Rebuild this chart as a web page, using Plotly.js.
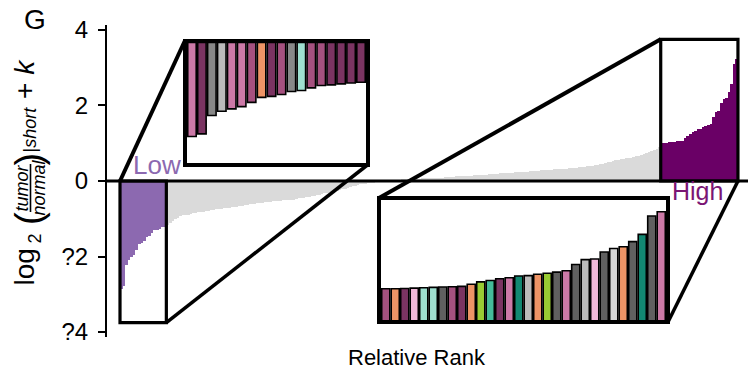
<!DOCTYPE html>
<html>
<head>
<meta charset="utf-8">
<script src="https://cdn.plot.ly/plotly-3.0.1.min.js"></script>
<style>
  html, body { margin: 0; padding: 0; background: #fff; }
  #chart { width: 748px; height: 371px; }
</style>
</head>
<body>
<div id="chart"></div>
<script>
// Ranked scores: the low tail, the unremarkable middle, and the high tail
const lowScores = [-2.86, -2.78, -2.22, -2.09, -2.02, -1.95, -1.82, -1.67, -1.64,
                   -1.58, -1.49, -1.46, -1.38, -1.31, -1.29, -1.26, -1.23, -1.21];

const midScores = [
  -1.16, -1.12, -1.05, -1.00, -0.97,
  -0.92, -0.91, -0.90, -0.89, -0.88,
  -0.85, -0.84, -0.83, -0.82, -0.81, -0.80, -0.79, -0.78,
  -0.76, -0.75, -0.74, -0.73, -0.72, -0.72, -0.71, -0.70, -0.69, -0.68, -0.67, -0.66,
  -0.64, -0.63, -0.62, -0.61, -0.60,
  -0.58, -0.57, -0.57, -0.56, -0.55, -0.55, -0.54, -0.53, -0.53, -0.52, -0.51, -0.51, -0.50, -0.49, -0.49, -0.48,
  -0.46, -0.45, -0.44, -0.43, -0.42, -0.41, -0.40, -0.38,
  -0.36, -0.35, -0.33, -0.32, -0.30, -0.29, -0.27, -0.26,
  -0.24, -0.22, -0.20, -0.18, -0.16, -0.14,
  -0.12, -0.11, -0.09, -0.08, -0.07, -0.06, -0.05, -0.04, -0.03, -0.02,
  -0.01, 0.00, 0.01, 0.01, 0.02, 0.02, 0.03, 0.03, 0.04, 0.04, 0.05, 0.05,
  0.05, 0.06, 0.06, 0.06, 0.07, 0.07, 0.07, 0.08, 0.08, 0.08, 0.09, 0.09, 0.09,
  0.10, 0.10, 0.11, 0.11, 0.12, 0.12, 0.12, 0.13, 0.13, 0.14, 0.14, 0.15, 0.15,
  0.16, 0.16, 0.17, 0.17, 0.18, 0.18, 0.19, 0.19, 0.20, 0.20, 0.21, 0.21, 0.22, 0.22,
  0.23, 0.23, 0.24, 0.24, 0.25, 0.25, 0.26, 0.26, 0.27, 0.27, 0.28, 0.28, 0.29,
  0.30, 0.30, 0.31, 0.31, 0.32, 0.32, 0.33, 0.33, 0.34, 0.34, 0.35, 0.35, 0.36,
  0.37, 0.38, 0.39, 0.40, 0.41, 0.42, 0.43, 0.44, 0.45,
  0.48, 0.50, 0.51, 0.53, 0.55, 0.56,
  0.58, 0.59, 0.60, 0.61, 0.62, 0.63, 0.65, 0.66,
  0.70, 0.72, 0.74, 0.76, 0.79, 0.82, 0.86, 0.90
];

const highScores = [1.00, 1.00, 1.01, 1.02, 1.03, 1.04, 1.05, 1.06, 1.07, 1.13,
                    1.20, 1.24, 1.29, 1.32, 1.37, 1.38, 1.42, 1.45, 1.48, 1.52,
                    1.70, 1.84, 1.86, 2.06, 2.16, 2.21, 2.36, 2.57, 3.10, 3.22];

// Group membership of every sample in the two tails
const lowGroups  = ['G1', 'G2', 'G3', 'G4', 'G1', 'G1', 'G5', 'G6', 'G2',
                    'G5', 'G3', 'G7', 'G5', 'G5', 'G2', 'G2', 'G2', 'G2'];
const highGroups = ['G5', 'G6', 'G2', 'G8', 'G7', 'G7', 'G9', 'G5', 'G2', 'G6',
                    'G10', 'G11', 'G2', 'G1', 'G12', 'G4', 'G6', 'G10', 'G9', 'G1',
                    'G9', 'G4', 'G8', 'G9', 'G13', 'G6', 'G9', 'G12', 'G9', 'G1'];

const yTickValues = [-4, -2, 0, 2, 4];
const yTickLabels = ['?4', '?2', '0', '2', '4'];

// ---- styling ----
const groupPalette = {
  G1: '#CC79A7', G2: '#7B3462', G3: '#888888', G4: '#BBBBBB', G5: '#A5517F',
  G6: '#EE9466', G7: '#9FE0D0', G8: '#F0B8D8', G9: '#606060', G10: '#99CC33',
  G11: '#44BB99', G12: '#128872', G13: '#D6D6D6'
};
const LOW_COLOR = '#8C69B0';
const MID_COLOR = '#DADADA';
const HIGH_COLOR = '#6A0066';
const FONT = 'Liberation Sans, Arial, Helvetica, sans-serif';

const W = 748, H = 371;
const M = { l: 107, r: 0, t: 25, b: 34 };
const plotW = W - M.l - M.r, plotH = H - M.t - M.b;
const X_RANGE = [-5.55, 243.4];
const Y_RANGE = [-4.13, 4.13];
const BOX_DEPTH = 3.75;          // height of the highlight frames around each tail
const INSET_BORDER = 4;

// pixel -> paper helpers for decorations placed outside the data
const px2x = px => (px - M.l) / plotW;
const py2y = py => (H - M.b - py) / plotH;
// data -> paper on the main axes
const d2x = v => (v - X_RANGE[0]) / (X_RANGE[1] - X_RANGE[0]);
const d2y = v => (v - Y_RANGE[0]) / (Y_RANGE[1] - Y_RANGE[0]);

const nLow = lowScores.length, nMid = midScores.length, nHigh = highScores.length;
const allScores = lowScores.concat(midScores, highScores);
const ranks = allScores.map((_, i) => i);
const mainColors = allScores.map((_, i) =>
  i < nLow ? LOW_COLOR : (i < nLow + nMid ? MID_COLOR : HIGH_COLOR));

// inset panel placement (inner plotting area, paper units)
const lowInsetDom  = { x: [px2x(187), px2x(366)], y: [py2y(162.5), py2y(42.5)] };
const highInsetDom = { x: [px2x(381), px2x(666)], y: [py2y(320), py2y(200)] };

const traces = [
  {
    type: 'bar', x: ranks, y: allScores, width: 1,
    marker: { color: mainColors, line: { width: 0 } },
    xaxis: 'x', yaxis: 'y', hoverinfo: 'skip'
  },
  {
    type: 'bar', x: lowScores.map((_, i) => i), y: lowScores, width: 0.85,
    marker: { color: lowGroups.map(g => groupPalette[g]), line: { color: '#000', width: 1.6 } },
    xaxis: 'x2', yaxis: 'y2', hoverinfo: 'skip'
  },
  {
    type: 'bar', x: highScores.map((_, i) => i), y: highScores, width: 0.85,
    marker: { color: highGroups.map(g => groupPalette[g]), line: { color: '#000', width: 1.6 } },
    xaxis: 'x3', yaxis: 'y3', hoverinfo: 'skip'
  }
];

const hiddenAxis = { showline: false, showgrid: false, zeroline: false, showticklabels: false, ticks: '' };
const insetAxis = {
  showline: true, mirror: true, linewidth: INSET_BORDER, linecolor: '#000',
  showgrid: false, zeroline: false, showticklabels: false, ticks: ''
};

// frame corners (paper units)
const lowFrame = { x0: d2x(-0.5), x1: d2x(nLow - 0.5), y0: d2y(0), y1: d2y(-BOX_DEPTH) };
const highFrame = { x0: d2x(nLow + nMid - 0.5), x1: d2x(allScores.length - 0.5), y0: d2y(0), y1: d2y(BOX_DEPTH) };
const bx = INSET_BORDER / plotW, by = INSET_BORDER / plotH;

const blk = (w) => ({ color: '#000', width: w });
const shapes = [
  // zero line
  { type: 'line', xref: 'paper', yref: 'y', x0: 0, x1: 1, y0: 0, y1: 0, line: blk(3.2), layer: 'above' },
  // frames on the tails
  { type: 'rect', xref: 'paper', yref: 'paper', x0: lowFrame.x0, x1: lowFrame.x1, y0: lowFrame.y0, y1: lowFrame.y1, line: blk(3.2), layer: 'above' },
  { type: 'rect', xref: 'paper', yref: 'paper', x0: highFrame.x0, x1: highFrame.x1, y0: highFrame.y0, y1: highFrame.y1, line: blk(3.2), layer: 'above' },
  // connectors: low tail -> upper-left panel
  { type: 'line', xref: 'paper', yref: 'paper', x0: lowFrame.x0, y0: lowFrame.y0,
    x1: lowInsetDom.x[0] - bx / 2, y1: lowInsetDom.y[1] + by / 2, line: blk(4), layer: 'above' },
  { type: 'line', xref: 'paper', yref: 'paper', x0: lowFrame.x1, y0: lowFrame.y1,
    x1: lowInsetDom.x[1] + bx / 2, y1: lowInsetDom.y[0] - by / 2, line: blk(3.5), layer: 'above' },
  // connectors: high tail -> lower-right panel
  { type: 'line', xref: 'paper', yref: 'paper', x0: highFrame.x0, y0: highFrame.y1,
    x1: highInsetDom.x[0] - bx / 2, y1: highInsetDom.y[1] + by / 2, line: blk(4), layer: 'above' },
  { type: 'line', xref: 'paper', yref: 'paper', x0: highFrame.x1, y0: highFrame.y0,
    x1: highInsetDom.x[1] + bx / 2, y1: highInsetDom.y[0] - by / 2, line: blk(3.5), layer: 'above' },
  // fraction bar in the y-axis label
  { type: 'line', xref: 'paper', yref: 'paper', x0: px2x(30.5), x1: px2x(30.5), y0: py2y(212), y1: py2y(164), line: blk(1.6), layer: 'above' }
];

const ann = (text, px, py, size, extra) => Object.assign({
  text: text, xref: 'paper', yref: 'paper', x: px2x(px), y: py2y(py),
  xanchor: 'center', yanchor: 'middle', showarrow: false,
  font: { family: FONT, size: size, color: '#000' }
}, extra || {});
const rot = { textangle: -90 };

const annotations = [
  ann('G', 35, 19, 28),
  ann('Relative Rank', 417, 357, 22),
  ann('Low', 157, 165, 26, { font: { family: FONT, size: 26, color: LOW_COLOR } }),
  ann('High', 697, 191, 25, { font: { family: FONT, size: 25, color: '#7A1574' } }),
  // y-axis label: log2( tumor / normal )|short + k
  ann('log', 24, 266.5, 28, rot),
  ann('2', 34.5, 239, 18, rot),
  ann('(', 28.5, 218.5, 38, rot),
  ann('<i>tumor</i>', 22.4, 188, 18, rot),
  ann('<i>normal</i>', 39.4, 187, 18, rot),
  ann(')', 28.5, 159, 38, rot),
  ann('|<i>short</i>', 29.5, 130, 18, rot),
  ann('+ <i>k</i>', 24, 79, 28, rot)
];

const layout = {
  width: W, height: H, margin: M,
  paper_bgcolor: '#fff', plot_bgcolor: 'rgba(0,0,0,0)',
  showlegend: false, bargap: 0,
  font: { family: FONT, color: '#000' },
  xaxis: Object.assign({ range: X_RANGE, domain: [0, 1], anchor: 'y' }, hiddenAxis),
  yaxis: {
    range: Y_RANGE, domain: [0, 1], anchor: 'x',
    tickvals: yTickValues, ticktext: yTickLabels,
    ticks: 'outside', ticklen: 7, tickwidth: 2, tickcolor: '#000',
    ticklabelstandoff: 5,
    showline: true, linewidth: 2, linecolor: '#000',
    showgrid: false, zeroline: false,
    tickfont: { family: FONT, size: 24, color: '#000' }
  },
  xaxis2: Object.assign({ domain: lowInsetDom.x, anchor: 'y2', range: [-0.5, nLow - 0.5] }, insetAxis),
  yaxis2: Object.assign({ domain: lowInsetDom.y, anchor: 'x2', range: [-3.65, 0] }, insetAxis),
  xaxis3: Object.assign({ domain: highInsetDom.x, anchor: 'y3', range: [-0.5, nHigh - 0.5] }, insetAxis),
  yaxis3: Object.assign({ domain: highInsetDom.y, anchor: 'x3', range: [0.1, 3.56] }, insetAxis),
  shapes: shapes,
  annotations: annotations
};

Plotly.newPlot('chart', traces, layout, { displayModeBar: false, staticPlot: true });
</script>
</body>
</html>
